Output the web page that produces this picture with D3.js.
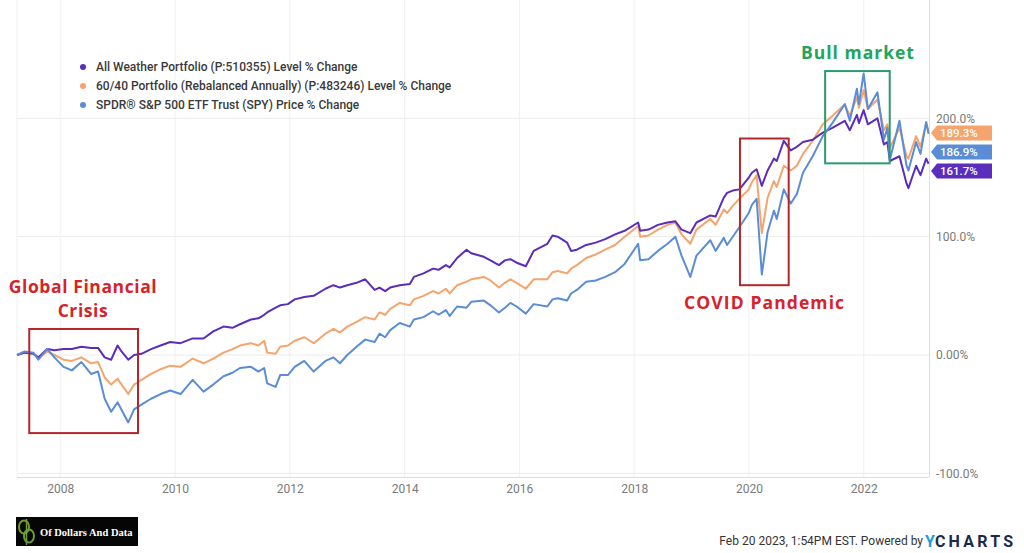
<!DOCTYPE html>
<html><head><meta charset="utf-8">
<script src="https://cdn.jsdelivr.net/npm/d3@7"></script>
<style>
html,body{margin:0;padding:0;background:#fff;}
svg{display:block;font-family:Roboto,"Noto Sans",sans-serif;}
</style></head><body>
<svg id="chart" width="1024" height="553"></svg>
<script>
// ---------------- DATA ----------------
const dates = [
"2007-04-01","2007-05-20","2007-07-15","2007-08-15","2007-10-10","2007-11-25","2008-01-22","2008-03-15","2008-05-15","2008-07-15",
"2008-08-29","2008-10-10","2008-11-20","2008-12-31","2009-01-20","2009-03-09","2009-04-15","2009-06-01","2009-08-01","2009-10-01",
"2009-12-01","2010-02-05","2010-04-23","2010-07-01","2010-09-01","2010-11-05","2011-01-01","2011-02-18","2011-04-29","2011-06-15",
"2011-07-22","2011-08-10","2011-10-03","2011-11-01","2011-12-20","2012-02-01","2012-04-02","2012-06-01","2012-08-15","2012-10-05",
"2012-11-15","2013-01-01","2013-03-01","2013-04-25","2013-06-24","2013-07-25","2013-08-30","2013-10-01","2013-12-01","2014-02-03",
"2014-03-01","2014-05-01","2014-07-01","2014-08-05","2014-09-20","2014-10-15","2014-12-01","2015-01-30","2015-03-01","2015-05-20",
"2015-07-01","2015-08-24","2015-10-01","2015-11-05","2015-12-15","2016-02-11","2016-04-01","2016-06-27","2016-07-30","2016-09-01",
"2016-10-31","2016-11-25","2017-01-01","2017-03-01","2017-05-01","2017-07-01","2017-09-01","2017-11-01","2018-01-26","2018-02-08",
"2018-04-02","2018-06-01","2018-08-01","2018-09-20","2018-10-29","2018-12-24","2019-02-01","2019-04-30","2019-06-03","2019-07-25",
"2019-08-15","2019-09-20","2019-11-01","2019-12-31","2020-01-20","2020-02-19","2020-03-23","2020-04-29","2020-06-08","2020-06-26",
"2020-08-10","2020-09-23","2020-11-01","2020-12-10","2021-02-10","2021-04-15","2021-06-15","2021-09-02","2021-10-04","2021-11-18",
"2021-12-01","2021-12-31","2022-01-27","2022-03-29","2022-05-09","2022-05-31","2022-06-16","2022-08-16","2022-09-30","2022-10-12",
"2022-11-30","2022-12-28","2023-02-02","2023-02-17"
];
const allWeather = [
0,2,1,-2,5,4,5,5,7,6,
6,-2,-4,8,4,-4,0,1,5,8,
11,10,14,14,20,24,23,26,30,31,
34,36,40,42,43,47,49,50,56,59,
57,59,61,64,55,57,54,57,59,60,
66,69,73,72,76,74,82,89,86,83,
80,76,80,81,78,75,88,94,101,100,
95,88,89,93,95,98,102,105,112,105,
106,110,112,113,106,103,112,118,117,133,
137,139,140,150,154,157,143,156,166,164,
181,173,176,180,182,188,192,198,190,203,
196,207,195,200,178,180,164,168,145,141,
160,152,166,161.7
];
const sixtyForty = [
0,2,1,-3,3,0,-4,-5,-2,-7,
-6,-19,-25,-20,-24,-33,-25,-21,-16,-12,
-9,-10,-3,-7,-3,2,5,8,10,8,
12,2,1,7,8,12,15,10,18,22,
19,24,28,32,30,36,34,39,44,42,
47,50,54,52,56,52,59,62,64,66,
63,57,61,64,61,56,64,64,70,71,
69,73,76,82,85,89,93,100,109,100,
101,106,110,112,102,94,106,115,110,123,
120,126,132,140,146,152,103,133,147,142,
160,156,160,170,181,195,202,212,202,218,
209,224,208,216,190,195,175,192,168,166,
185,176,196,189.3
];
const spy = [
0,3,2,-4,5,-2,-10,-13,-6,-16,
-14,-37,-48,-40,-45,-57,-46,-42,-37,-33,
-30,-33,-21,-31,-25,-18,-15,-11,-10,-14,
-11,-24,-27,-17,-17,-10,-5,-14,-5,-2,
-7,0,7,13,11,18,15,21,27,24,
30,32,37,34,38,33,41,40,45,46,
42,36,40,44,41,35,43,41,47,48,
46,52,55,62,63,66,70,77,94,80,
81,88,94,100,84,66,84,97,88,99,
93,100,108,120,127,132,68,104,122,115,
140,128,136,154,168,185,196,212,198,225,
212,238,208,222,182,192,165,198,160,156,
180,170,197,186.9
];
const seriesNames = [
"All Weather Portfolio (P:510355) Level % Change",
"60/40 Portfolio (Rebalanced Annually) (P:483246) Level % Change",
"SPDR® S&P 500 ETF Trust (SPY) Price % Change"
];
const seriesColors = ["#5b2dbd", "#f4a46c", "#5a8dd6"];
const yTickValues = [-100, 0, 100, 200];
const yTickLabels = ["-100.0%", "0.00%", "100.0%", "200.0%"];
const xTickYears = [2008, 2010, 2012, 2014, 2016, 2018, 2020, 2022];

// annotations (in data coordinates)
const annotations = [
  {lines:["Global Financial","Crisis"], color:"#d5232a", box:["2007-06-18","2009-05-10",22,-66], textAt:["2008-05-25",57.5], width:148},
  {lines:["COVID Pandemic"], color:"#d5232a", box:["2019-11-05","2020-09-10",183,59], textAt:["2020-04-10",44], width:160},
  {lines:["Bull market"], color:"#21a45b", box:["2021-04-30","2022-06-15",240,162], textAt:["2021-11-25",255], width:113}
];
const boxColors = ["#b5262c","#b5262c","#2b9a6c"];

// ---------------- CHART ----------------
const parse = d3.timeParse("%Y-%m-%d");
const dateObjs = dates.map(parse);
const series = [allWeather, sixtyForty, spy];

const svg = d3.select("#chart");
const plotL = 17, plotR = 929, plotT = 0, plotB = 477;

const x = d3.scaleTime()
  .domain([parse("2007-04-01"), parse("2023-02-20")])
  .range([plotL, plotR]);
const y = d3.scaleLinear().domain([-100, 300]).range([473.3, 0.1]);

// grid
const grid = svg.append("g");
grid.selectAll("line.v").data(xTickYears).join("line")
  .attr("x1", d => x(new Date(d,0,1))).attr("x2", d => x(new Date(d,0,1)))
  .attr("y1", plotT).attr("y2", plotB)
  .attr("stroke", "#f0f0f0").attr("stroke-width", 1);
grid.selectAll("line.h").data(yTickValues).join("line")
  .attr("x1", plotL).attr("x2", plotR)
  .attr("y1", d => y(d)).attr("y2", d => y(d))
  .attr("stroke", "#ececec").attr("stroke-width", 1);
grid.append("line").attr("x1", plotL).attr("x2", plotL).attr("y1", plotT).attr("y2", plotB)
  .attr("stroke", "#f0f0f0");
grid.append("line").attr("x1", plotR+0.5).attr("x2", plotR+0.5).attr("y1", plotT).attr("y2", plotB)
  .attr("stroke", "#dcdcdc");
grid.append("line").attr("x1", plotL).attr("x2", plotR).attr("y1", plotB+0.5).attr("y2", plotB+0.5)
  .attr("stroke", "#dcdcdc");

// x axis
const xAxis = d3.axisBottom(x)
  .tickValues(xTickYears.map(d => new Date(d,0,1)))
  .tickFormat(d3.timeFormat("%Y")).tickSize(0).tickPadding(7);
const gx = svg.append("g").attr("transform", `translate(0,${plotB})`).call(xAxis);
gx.select(".domain").remove();
gx.selectAll("text").attr("fill", "#7a7a7a").attr("font-size", 12)
  .attr("font-family", "Roboto, sans-serif");

// y axis (right)
const yAxis = d3.axisRight(y).tickValues(yTickValues)
  .tickFormat((d,i) => yTickLabels[i]).tickSize(0).tickPadding(7);
const gy = svg.append("g").attr("transform", `translate(${plotR},0)`).call(yAxis);
gy.select(".domain").remove();
gy.selectAll("text").attr("fill", "#7a7a7a").attr("font-size", 12)
  .attr("font-family", "Roboto, sans-serif");

// lines
const line = d3.line().x((d,i) => x(dateObjs[i])).y(d => y(d)).curve(d3.curveLinear);
const drawOrder = [1, 0, 2];
svg.append("g").selectAll("path").data(drawOrder).join("path")
  .attr("d", i => line(series[i]))
  .attr("fill", "none").attr("stroke", i => seriesColors[i])
  .attr("stroke-width", 2).attr("stroke-linejoin", "round");

// end value tags
const tagInfo = series.map((s,i) => ({i, v: s[s.length-1], ny: y(s[s.length-1])}))
  .sort((a,b) => a.ny - b.ny);
let prev = -Infinity;
tagInfo.forEach(t => { t.py = Math.max(t.ny + 2, prev + 19); prev = t.py; });
const tags = svg.append("g");
tagInfo.forEach(t => {
  const h = 15, x0 = plotR + 2, xb = plotR + 8, x1 = plotR + 63;
  tags.append("path")
    .attr("d", `M${x0},${t.py} L${xb},${t.py-h/2} L${x1},${t.py-h/2} L${x1},${t.py+h/2} L${xb},${t.py+h/2} Z`)
    .attr("fill", seriesColors[t.i]);
  tags.append("text").attr("x", xb + 3).attr("y", t.py).attr("dy", "0.35em")
    .attr("fill", "#fff").attr("font-size", 11.5).attr("font-weight", 500)
    .text(t.v.toFixed(1) + "%");
});

// legend
const lg = svg.append("g");
seriesNames.forEach((n,i) => {
  const yy = 67 + i*19;
  lg.append("circle").attr("cx", 83).attr("cy", yy).attr("r", 3).attr("fill", seriesColors[i]);
  lg.append("text").attr("x", 96).attr("y", yy).attr("dy", "0.35em")
    .attr("font-size", 12).attr("font-weight", 500).attr("fill", "#3a3a3a").text(n);
});

// annotations
const ann = svg.append("g");
annotations.forEach((a,k) => {
  const bx0 = x(parse(a.box[0])), bx1 = x(parse(a.box[1]));
  const by0 = y(a.box[2]), by1 = y(a.box[3]);
  ann.append("rect").attr("x", bx0).attr("y", by0).attr("width", bx1-bx0).attr("height", by1-by0)
    .attr("fill", "none").attr("stroke", boxColors[k]).attr("stroke-width", 2);
  const cx = x(parse(a.textAt[0])), cy = y(a.textAt[1]);
  const fs = 17.5;
  let ls = 0;
  a.lines.forEach((ln, j) => {
    const t = ann.append("text").attr("x", cx).attr("y", cy + j*24).attr("dy", "0.35em")
      .attr("text-anchor", "middle").attr("fill", a.color)
      .attr("font-family", "'Open Sans', sans-serif").attr("font-weight", 700)
      .attr("font-size", fs).text(ln);
    if (j === 0) {
      const w = t.node().getComputedTextLength();
      ls = (a.width - w) / Math.max(1, ln.length - 1);
    }
    t.attr("letter-spacing", ls);
  });
});

// logo bottom-left
const logo = svg.append("g");
logo.append("rect").attr("x", 16).attr("y", 517).attr("width", 122).attr("height", 29).attr("fill", "#050505");
logo.append("ellipse").attr("cx", 24).attr("cy", 527).attr("rx", 5).attr("ry", 6.5)
  .attr("fill", "none").attr("stroke", "#6d9b2f").attr("stroke-width", 2);
logo.append("ellipse").attr("cx", 29).attr("cy", 536).attr("rx", 5).attr("ry", 6.5)
  .attr("fill", "none").attr("stroke", "#6d9b2f").attr("stroke-width", 2);
logo.append("line").attr("x1", 26.5).attr("x2", 26.5).attr("y1", 519).attr("y2", 545)
  .attr("stroke", "#6d9b2f").attr("stroke-width", 1.5);
logo.append("text").attr("x", 40).attr("y", 532).attr("dy", "0.35em")
  .attr("font-family", "'Liberation Serif', serif").attr("font-weight", 700)
  .attr("font-size", 10.5).attr("fill", "#fff").text("Of Dollars And Data");

// footer right
svg.append("text").attr("x", 923).attr("y", 541).attr("dy", "0.35em").attr("text-anchor", "end")
  .attr("font-size", 12).attr("fill", "#333").text("Feb 20 2023, 1:54PM EST. Powered by");
const yc = svg.append("text").attr("x", 925).attr("y", 541).attr("dy", "0.36em")
  .attr("font-size", 16).attr("font-weight", 700).attr("font-family", "Roboto, sans-serif");
yc.append("tspan").attr("fill", "#1e9bd7").text("Y");
yc.append("tspan").attr("fill", "#1b2a4a").attr("letter-spacing", 3.2).text("CHARTS");
</script>
</body></html>
